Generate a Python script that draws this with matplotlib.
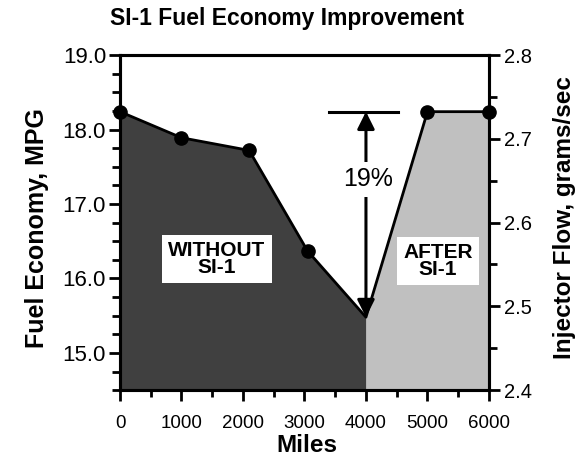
import matplotlib
matplotlib.use("Agg")
import matplotlib.pyplot as plt
from matplotlib.ticker import MultipleLocator, FormatStrFormatter

plt.rcParams['font.family'] = ['Liberation Sans', 'DejaVu Sans']

miles = [0, 1000, 2100, 3050, 4000, 5000, 6000]
mpg = [18.24, 17.89, 17.72, 16.37, 15.48, 18.24, 18.24]
marker_idx = [0, 1, 2, 3, 5, 6]
split = 4  # index where SI-1 was added
improvement_label = "19%"
without_label = "WITHOUT\nSI-1"
after_label = "AFTER\nSI-1"

W, H = 580, 459
fig = plt.figure(figsize=(W / 100, H / 100), dpi=100)
ax = fig.add_axes([0.2069, 0.150, 0.843 - 0.2069, 0.880 - 0.150])

ymin, ymax = 14.5, 19.0
ax.fill_between(miles[:split + 1], mpg[:split + 1], ymin, color='#404040', lw=0)
ax.fill_between(miles[split:], mpg[split:], ymin, color='#c0c0c0', lw=0)
ax.plot(miles, mpg, color='black', lw=2, zorder=3)
ax.plot([miles[i] for i in marker_idx], [mpg[i] for i in marker_idx], 'o',
        color='black', ms=9.5, zorder=4, clip_on=False)

ax.set_xlim(0, 6000)
ax.set_ylim(ymin, ymax)
ax.xaxis.set_major_locator(MultipleLocator(1000))
ax.xaxis.set_minor_locator(MultipleLocator(500))
ax.yaxis.set_minor_locator(MultipleLocator(0.25))
ax.yaxis.set_major_formatter(FormatStrFormatter('%.1f'))
ax.set_yticks([15.0, 16.0, 17.0, 18.0, 19.0])

for s in ax.spines.values():
    s.set_linewidth(2.2)
ax.tick_params(axis='x', which='major', direction='out', length=8, width=2, labelsize=13.5, pad=10)
ax.tick_params(axis='x', which='minor', direction='out', length=5, width=2)
ax.tick_params(axis='y', which='major', direction='out', length=8, width=2, labelsize=16, pad=2)
ax.tick_params(axis='y', which='minor', direction='out', length=6, width=2)

ax2 = ax.twinx()
ax2.set_ylim(2.4, 2.8)
ax2.yaxis.set_major_locator(MultipleLocator(0.1))
ax2.yaxis.set_minor_locator(MultipleLocator(0.05))
ax2.yaxis.set_major_formatter(FormatStrFormatter('%.1f'))
for s in ax2.spines.values():
    s.set_linewidth(2.2)
ax2.tick_params(axis='y', which='major', direction='out', length=8, width=2, labelsize=14.5, pad=3)
ax2.tick_params(axis='y', which='minor', direction='out', length=6, width=2)

# annotation
top = mpg[split + 1]
bottom = mpg[split]
ax.plot([3400, 4520], [top, top], color='black', lw=2.2, zorder=5)
ax.annotate('', xy=(miles[split], top), xytext=(miles[split], bottom),
            arrowprops=dict(arrowstyle='<|-|>', color='black', lw=2.2,
                            mutation_scale=26, shrinkA=0, shrinkB=0), zorder=5)
ax.text(4040, 17.33, improvement_label, ha='center', va='center', fontsize=18,
        bbox=dict(facecolor='white', edgecolor='none', pad=4), zorder=6)

box = dict(facecolor='white', edgecolor='none', boxstyle='square,pad=0.3')
ax.text(1577, 16.26, without_label, ha='center', va='center', fontsize=15,
        fontweight='bold', linespacing=0.85, bbox=box, zorder=6)
ax.text(5171, 16.23, after_label, ha='center', va='center', fontsize=15,
        fontweight='bold', linespacing=0.85, bbox=box, zorder=6)

fig.text(307 / W, 1 - 445 / H, 'Miles', ha='center', va='center',
         fontsize=17.5, fontweight='bold')
fig.text(37 / W, 1 - 228 / H, 'Fuel Economy, MPG', ha='center', va='center',
         rotation=90, fontsize=18, fontweight='bold')
fig.text(564 / W, 1 - 218 / H, 'Injector Flow, grams/sec', ha='center', va='center',
         rotation=90, fontsize=17.5, fontweight='bold')
fig.text(287 / W, 1 - 19 / H, 'SI-1 Fuel Economy Improvement',
         ha='center', va='center', fontsize=16.5, fontweight='bold')

fig.savefig('out.png', dpi=100)
